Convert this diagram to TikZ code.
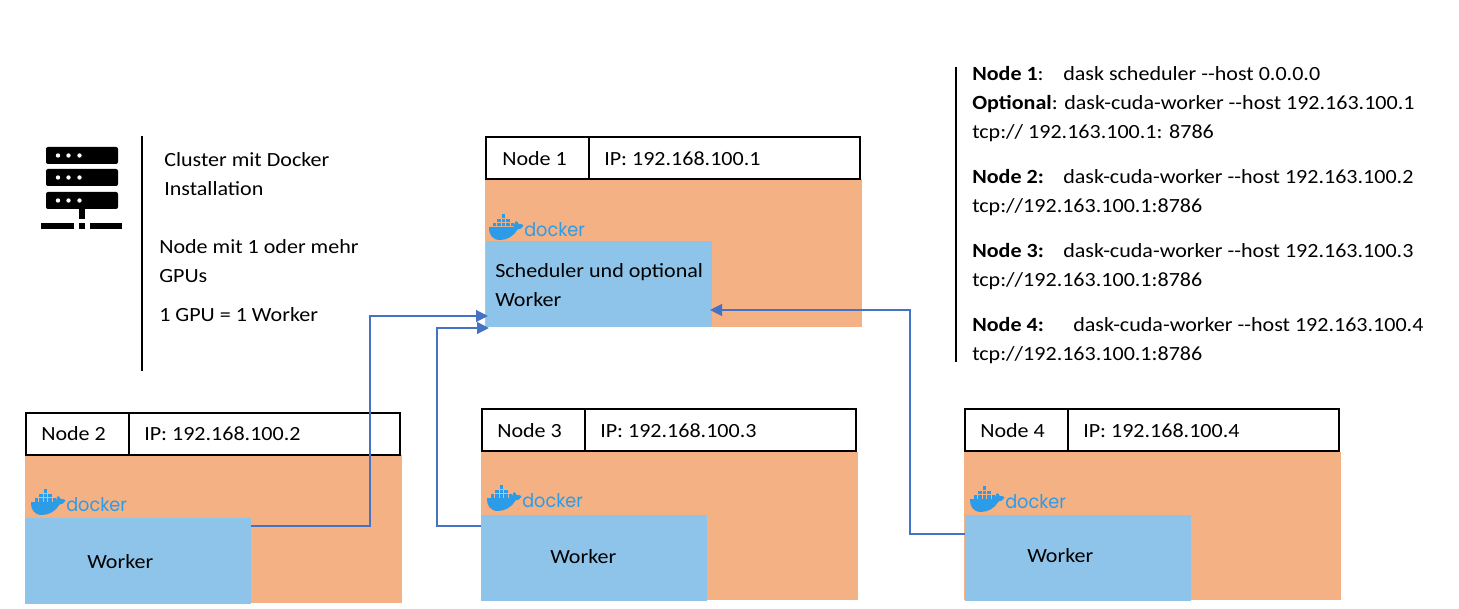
\documentclass[tikz,border=0pt]{standalone}
\usepackage{graphicx}
\usepackage{fontspec}
\setmainfont[FakeStretch=1.095]{Carlito}
\newfontfamily\dockerfont{Poppins}
\usetikzlibrary{arrows.meta}
\definecolor{hostfill}{HTML}{F4B183}
\definecolor{workerfill}{HTML}{8EC4EA}
\definecolor{linkblue}{HTML}{4472C4}
\definecolor{dockerblue}{HTML}{2D9CE8}
\newcommand{\dd}{-{}-}
\tikzset{
  txt/.style={inner sep=0pt,anchor=base west,font=\fontsize{15.1}{17}\selectfont,text=black},
  hdr/.style={draw=black,line width=1pt,fill=white,inner sep=0pt,outer sep=0pt},
  wrk/.style={fill=workerfill,draw=none,inner sep=0pt,outer sep=0pt},
  link/.style={draw=linkblue,line width=1.5pt,-{Triangle[length=9pt,width=8.8pt]},shorten >=-1.5pt},
  rule/.style={draw=black,line width=1.5pt},
  dockerlogo/.pic={
    \fill[dockerblue] (0,-3) -- (24.5,-3) .. controls (25,-5) and (26,-8) .. (27,-9) .. controls (28.5,-8) and (29.5,-7) .. (29.8,-5.8) .. controls (31,-6.3) and (33,-6) .. (34.5,-4.8) .. controls (33,-1.5) and (30.5,-0.5) .. (28.5,-0.5)
      .. controls (25,6) and (18,10) .. (11,10) .. controls (3,10) and (-0.5,4) .. (0,-3) -- cycle;
    \foreach \bx/\by in {3.5/-7,8/-7,12.5/-7,17/-7,21.5/-7,8/-11.3,12.5/-11.3,17/-11.3,12.5/-15.6}
      \fill[dockerblue] (\bx,\by) rectangle ++(3.7,3.5);
    \node[anchor=base west,inner sep=0pt,text=dockerblue] at (35,6.5) {\resizebox{45.5pt}{10.5pt}{\dockerfont docker}};
  }
}
\begin{document}
\begin{tikzpicture}[x=0.75pt,y=-0.75pt]
\useasboundingbox (0,0) rectangle (1459,609);
% host bodies
\fill[hostfill] (485,179) rectangle (862,327);
\fill[hostfill] (25,455) rectangle (402,603);
\fill[hostfill] (481,452) rectangle (858,600);
\fill[hostfill] (964,452) rectangle (1341,600);
% header boxes
\node[hdr,minimum width=103*0.75pt,minimum height=42*0.75pt,anchor=north west] (n1a) at (486,137) {};
\node[hdr,minimum width=271*0.75pt,minimum height=42*0.75pt,anchor=north west] (n1b) at (589,137) {};
\node[hdr,minimum width=103*0.75pt,minimum height=42*0.75pt,anchor=north west] (n2a) at (26,413) {};
\node[hdr,minimum width=271*0.75pt,minimum height=42*0.75pt,anchor=north west] (n2b) at (129,413) {};
\node[hdr,minimum width=103*0.75pt,minimum height=42*0.75pt,anchor=north west] (n3a) at (482,409) {};
\node[hdr,minimum width=271*0.75pt,minimum height=42*0.75pt,anchor=north west] (n3b) at (585,409) {};
\node[hdr,minimum width=103*0.75pt,minimum height=42*0.75pt,anchor=north west] (n4a) at (965,409) {};
\node[hdr,minimum width=271*0.75pt,minimum height=42*0.75pt,anchor=north west] (n4b) at (1068,409) {};
\node[txt] at (502,166) {Node 1};
\node[txt] at (604,166) {IP: 192.168.100.1};
\node[txt] at (41,440) {Node 2};
\node[txt] at (144,440) {IP: 192.168.100.2};
\node[txt] at (497,437) {Node 3};
\node[txt] at (600,437) {IP: 192.168.100.3};
\node[txt] at (980,437) {Node 4};
\node[txt] at (1083,437) {IP: 192.168.100.4};
% docker logos
\pic at (489,230) {dockerlogo};
\pic at (31,505) {dockerlogo};
\pic at (487,501) {dockerlogo};
\pic at (970,502) {dockerlogo};
% workers
\node[wrk,minimum width=226*0.75pt,minimum height=86*0.75pt,anchor=north west] (w1) at (486,241) {};
\node[wrk,minimum width=226*0.75pt,minimum height=86*0.75pt,anchor=north west] (w2) at (25,518) {};
\node[wrk,minimum width=226*0.75pt,minimum height=86*0.75pt,anchor=north west] (w3) at (481,515) {};
\node[wrk,minimum width=226*0.75pt,minimum height=86*0.75pt,anchor=north west] (w4) at (965,515) {};
\node[txt] at (495,278) {Scheduler und optional};
\node[txt] at (495,307) {Worker};
\node[txt] at (87,568) {Worker};
\node[txt] at (550,563) {Worker};
\node[txt] at (1027,562) {Worker};
% connectors
\coordinate (t1) at (486,316);
\coordinate (t2) at (487,328);
\coordinate (t3) at (712,310);
\draw[link] (w2.east |- 0,526) -- (370,526) -- (370,316) -- (t1);
\draw[link] (w3.west |- 0,526) -- (437,526) -- (437,328) -- (t2);
\draw[link] (w4.west |- 0,534) -- (910,534) -- (910,310) -- (t3);
% server icon
\fill[black,rounded corners=1.5pt] (46,147) rectangle (118,164);
\fill[black,rounded corners=1.5pt] (46,169) rectangle (118,186);
\fill[black,rounded corners=1.5pt] (46,192) rectangle (118,209);
\foreach \yy in {155.5,177.5,200.5} \foreach \xx in {58,68.5,79.5}
  \fill[white] (\xx,\yy) circle (2.2);
\fill[black] (79,209) rectangle (85,219);
\fill[black] (41,223) rectangle (74,229);
\fill[black] (79,223) rectangle (85,229);
\fill[black] (90,223) rectangle (122,229);
% left text
\draw[rule] (142,136) -- (142,371);
\node[txt] at (164,167) {Cluster mit Docker};
\node[txt] at (164,196) {Installation};
\node[txt] at (159,254) {Node mit 1 oder mehr};
\node[txt] at (159,283) {GPUs};
\node[txt] at (159,322) {1 GPU = 1 Worker};
% right text
\draw[rule] (956,67) -- (956,362);
\node[txt] at (972,81) {\textbf{Node 1}:};
\node[txt] at (1063,81) {dask scheduler \dd host 0.0.0.0};
\node[txt] at (972,110) {\textbf{Optional}: dask-cuda-worker \dd host 192.163.100.1};
\node[txt] at (972,139) {tcp:// 192.163.100.1: 8786};
\node[txt] at (972,184) {\textbf{Node 2:}};
\node[txt] at (1063,184) {dask-cuda-worker \dd host 192.163.100.2};
\node[txt] at (972,213) {tcp://192.163.100.1:8786};
\node[txt] at (972,258) {\textbf{Node 3:}};
\node[txt] at (1063,258) {dask-cuda-worker \dd host 192.163.100.3};
\node[txt] at (972,287) {tcp://192.163.100.1:8786};
\node[txt] at (972,332) {\textbf{Node 4:}};
\node[txt] at (1073,332) {dask-cuda-worker \dd host 192.163.100.4};
\node[txt] at (972,361) {tcp://192.163.100.1:8786};
\end{tikzpicture}
\end{document}
